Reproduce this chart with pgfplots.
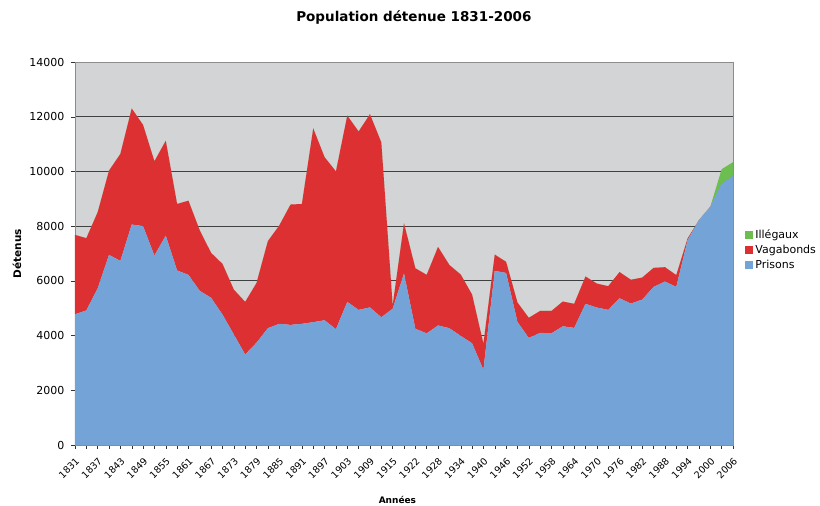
\documentclass[border=0pt]{standalone}
\usepackage{fontspec}
\setmainfont{DejaVu Sans}
\usepackage{pgfplots}
\pgfplotsset{compat=1.18}
\usepackage{pgfplotstable}
\definecolor{cprison}{RGB}{116,163,215}
\definecolor{cvag}{RGB}{220,48,50}
\definecolor{cill}{RGB}{108,190,80}
\definecolor{cbg}{RGB}{211,212,214}
\pgfplotstableread{
i P V I
0 4780 2900 0
1 4920 2640 0
2 5730 2780 0
3 6950 3080 0
4 6730 3910 0
5 8060 4240 0
6 8000 3700 0
7 6925 3445 0
8 7655 3465 0
9 6380 2430 0
10 6220 2710 0
11 5635 2205 0
12 5380 1640 0
13 4770 1850 0
14 4040 1640 0
15 3310 1920 0
16 3740 2180 0
17 4270 3180 0
18 4430 3590 0
19 4390 4400 0
20 4430 4380 0
21 4490 7080 0
22 4560 5960 0
23 4235 5765 0
24 5230 6810 0
25 4940 6520 0
26 5030 7060 0
27 4670 6390 0
28 4980 120 0
29 6270 1830 0
30 4250 2210 0
31 4080 2140 0
32 4370 2870 0
33 4270 2310 0
34 3990 2240 0
35 3720 1780 0
36 2750 950 0
37 6365 595 0
38 6290 405 0
39 4500 710 0
40 3915 735 0
41 4100 800 0
42 4085 815 0
43 4340 905 0
44 4280 880 0
45 5160 1000 0
46 5025 875 0
47 4940 865 0
48 5365 955 0
49 5170 870 0
50 5315 805 0
51 5780 695 0
52 5975 525 0
53 5780 430 0
54 7490 60 0
55 8220 0 0
56 8710 0 0
57 9560 0 520
58 9830 0 510
}\data
\begin{document}
\begin{tikzpicture}
\begin{axis}[
  scale only axis, width=658pt, height=383pt,
  xmin=0, xmax=58, ymin=0, ymax=14000,
  stack plots=y,
  axis background/.style={fill=cbg},
  axis line style={draw=black!45},
  xtick={0,2,...,58}, minor xtick={1,3,...,57},
  xticklabels={1831,1837,1843,1849,1855,1861,1867,1873,1879,1885,1891,1897,1903,1909,1915,1922,1928,1934,1940,1946,1952,1958,1964,1970,1976,1982,1988,1994,2000,2006},
  ytick={0,2000,...,14000},
  xtick pos=bottom, ytick pos=left,
  ymajorgrids, grid style={black!75, line width=0.8pt},
  tick align=outside, major tick length=4pt, minor tick length=4pt,
  every tick/.style={black!80},
  /pgf/number format/assume math mode=true,
  /pgf/number format/1000 sep={},
  scaled y ticks=false,
  xticklabel shift=7pt,
  x tick label style={rotate=45, anchor=north east, font=\fontsize{9.5}{11}\selectfont, inner sep=0.5pt},
  y tick label style={xshift=-3pt, font=\fontsize{11}{12}\selectfont},
  title={Population détenue 1831-2006},
  every axis title shift=0pt,
  title style={font=\bfseries\fontsize{13.5}{15}\selectfont, at={(axis description cs:0.515,1)}, anchor=center, yshift=44pt},
  xlabel={Années},
  xlabel style={font=\bfseries\fontsize{9}{11}\selectfont, at={(axis description cs:0.49,0)}, anchor=center, yshift=-55pt},
  ylabel={Détenus},
  ylabel style={font=\bfseries\fontsize{10.5}{11}\selectfont, at={(axis description cs:-0.088,0.5)}, anchor=center},
  reverse legend,
  legend style={at={(axis description cs:1.017,0.57)}, anchor=north west, draw=none, fill=none, font=\fontsize{11}{12}\selectfont, row sep=1pt, inner sep=1pt},
  legend cell align=left,
  legend image code/.code={\fill[#1] (0pt,-4pt) rectangle (8pt,4pt);},
]
\addplot[fill=cprison, draw=none] table[x=i, y=P]{\data} \closedcycle;
\addlegendentry{Prisons}
\addplot[fill=cvag, draw=none] table[x=i, y=V]{\data} \closedcycle;
\addlegendentry{Vagabonds}
\addplot[fill=cill, draw=none] table[x=i, y=I]{\data} \closedcycle;
\addlegendentry{Illégaux}
\end{axis}
\pgfresetboundingbox
\path (-75pt,-61pt) rectangle (745pt,445pt);
\end{tikzpicture}
\end{document}
